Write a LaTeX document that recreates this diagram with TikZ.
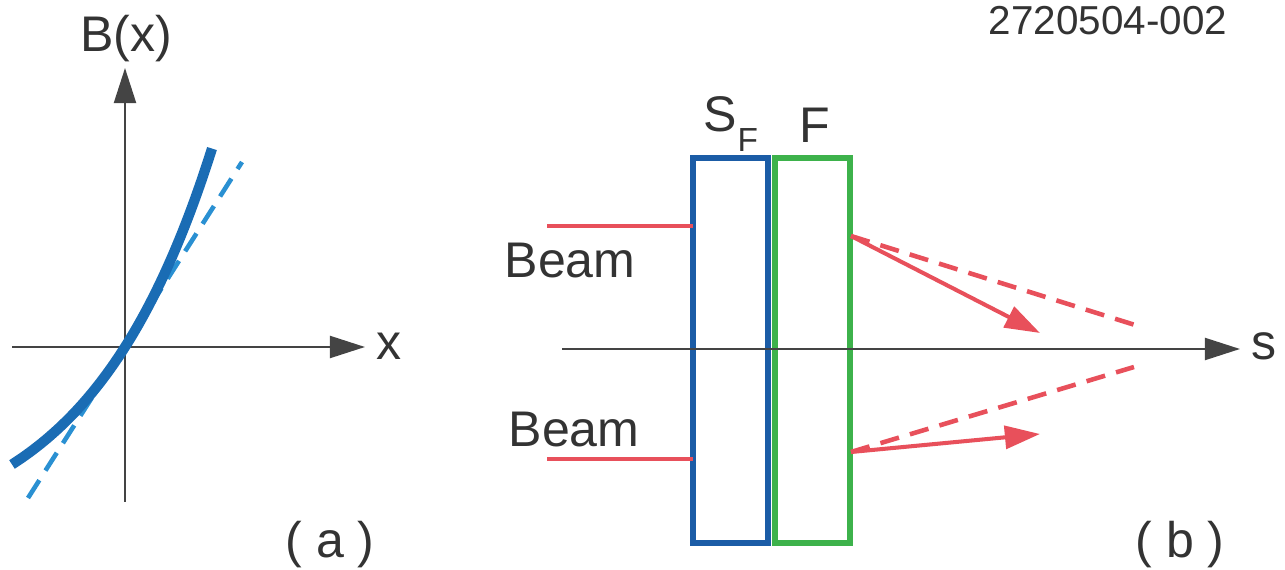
\documentclass[tikz,border=0pt]{standalone}
\usepackage{fontspec}
\setmainfont{Liberation Sans}
\usetikzlibrary{arrows.meta}
\definecolor{txt}{HTML}{333333}
\definecolor{axisc}{HTML}{444444}
\definecolor{boxblue}{HTML}{1B5CA6}
\definecolor{curveblue}{HTML}{1A6CB4}
\definecolor{dashblue}{HTML}{2A90D2}
\definecolor{boxgreen}{HTML}{3DB24B}
\definecolor{rayred}{HTML}{E8505B}
\tikzset{
  lab/.style={text=txt, inner sep=0pt, anchor=base, font=\fontsize{28.5}{30}\selectfont},
  axisline/.style={draw=axisc, line width=1.4pt, -{Triangle[length=20pt,width=12.5pt]}},
  plainaxis/.style={draw=axisc, line width=1.4pt},
  sfbox/.style={draw=boxblue, line width=3.4pt, minimum width=1.5cm, minimum height=7.7cm, inner sep=0pt, outer sep=0pt},
  fbox/.style={draw=boxgreen, line width=3.4pt, minimum width=1.5cm, minimum height=7.7cm, inner sep=0pt, outer sep=0pt},
  beamline/.style={draw=rayred, line width=1.8pt},
  ray/.style={draw=rayred, line width=2.3pt, -{Triangle[length=20pt,width=13pt]}},
  dray/.style={draw=rayred, line width=2.6pt, dash pattern=on 11pt off 6.5pt},
  bcurve/.style={draw=curveblue, line width=5.8pt},
  tangent/.style={draw=dashblue, line width=2.6pt, dash pattern=on 12pt off 6.5pt},
}
\begin{document}
\begin{tikzpicture}[x=0.02cm,y=-0.02cm]
\useasboundingbox (0,0) rectangle (1285,570);
% ---------- panel (a) ----------
\coordinate (o) at (125,347);
\coordinate (ybot) at (125,502);
\coordinate (ytop) at (125,68);
\coordinate (xleft) at (12,347);
\coordinate (xright) at (365,347);
\coordinate (tlo) at (28,498);
\coordinate (thi) at (242,162);
\draw[plainaxis] (o) -- (ybot);
\draw[axisline] (o) -- (ytop);
\draw[plainaxis] (o) -- (xleft);
\draw[axisline] (o) -- (xright);
\draw[tangent] (tlo) -- (thi);
\draw[bcurve] plot[domain=-113:87, samples=60, smooth] ({125+\x}, {347-1.58*(exp(0.008*\x)-1)/0.008});
\node[lab] (Bx) at (126,52) {B(x)};
\node[lab] (xl) at (389,360) {x};
\node[lab] (pa) at (330,558) {( a )};
% ---------- panel (b) ----------
\node[sfbox] (sf) at (730.5,350.5) {};
\node[fbox] (f) at (812.5,350.5) {};
\coordinate (sleft) at (562,349);
\coordinate (sright) at (1240,349);
\draw[axisline] (sleft) -- (sright);
\node[lab, anchor=base west] (sfl) at (703,132) {S\kern0.5pt\raisebox{-11pt}{\fontsize{19}{19}\selectfont F}};
\node[lab] (fl) at (815,143) {F};
\node[lab] (sl) at (1264,360) {s};
\coordinate (b1) at (547,226);
\coordinate (b2) at (547,459);
\draw[beamline] (b1) -- (b1 -| sf.west);
\draw[beamline] (b2) -- (b2 -| sf.west);
\node[lab] (beam1) at (570,278) {Beam};
\node[lab] (beam2) at (574,447) {Beam};
\coordinate (r1) at (851,236);
\coordinate (r2) at (851,452);
\coordinate (t1) at (1040,333);
\coordinate (t2) at (1040,434);
\coordinate (d1) at (1135,325);
\coordinate (d2) at (1134,367);
\draw[dray] (r1) -- (d1);
\draw[dray] (r2) -- (d2);
\draw[ray] (r1) -- (t1);
\draw[ray] (r2) -- (t2);
\node[lab] (pb) at (1180,558) {( b )};
\node[lab, font=\fontsize{23}{25}\selectfont] (id) at (1108,35) {2720504-002};
\end{tikzpicture}
\end{document}
